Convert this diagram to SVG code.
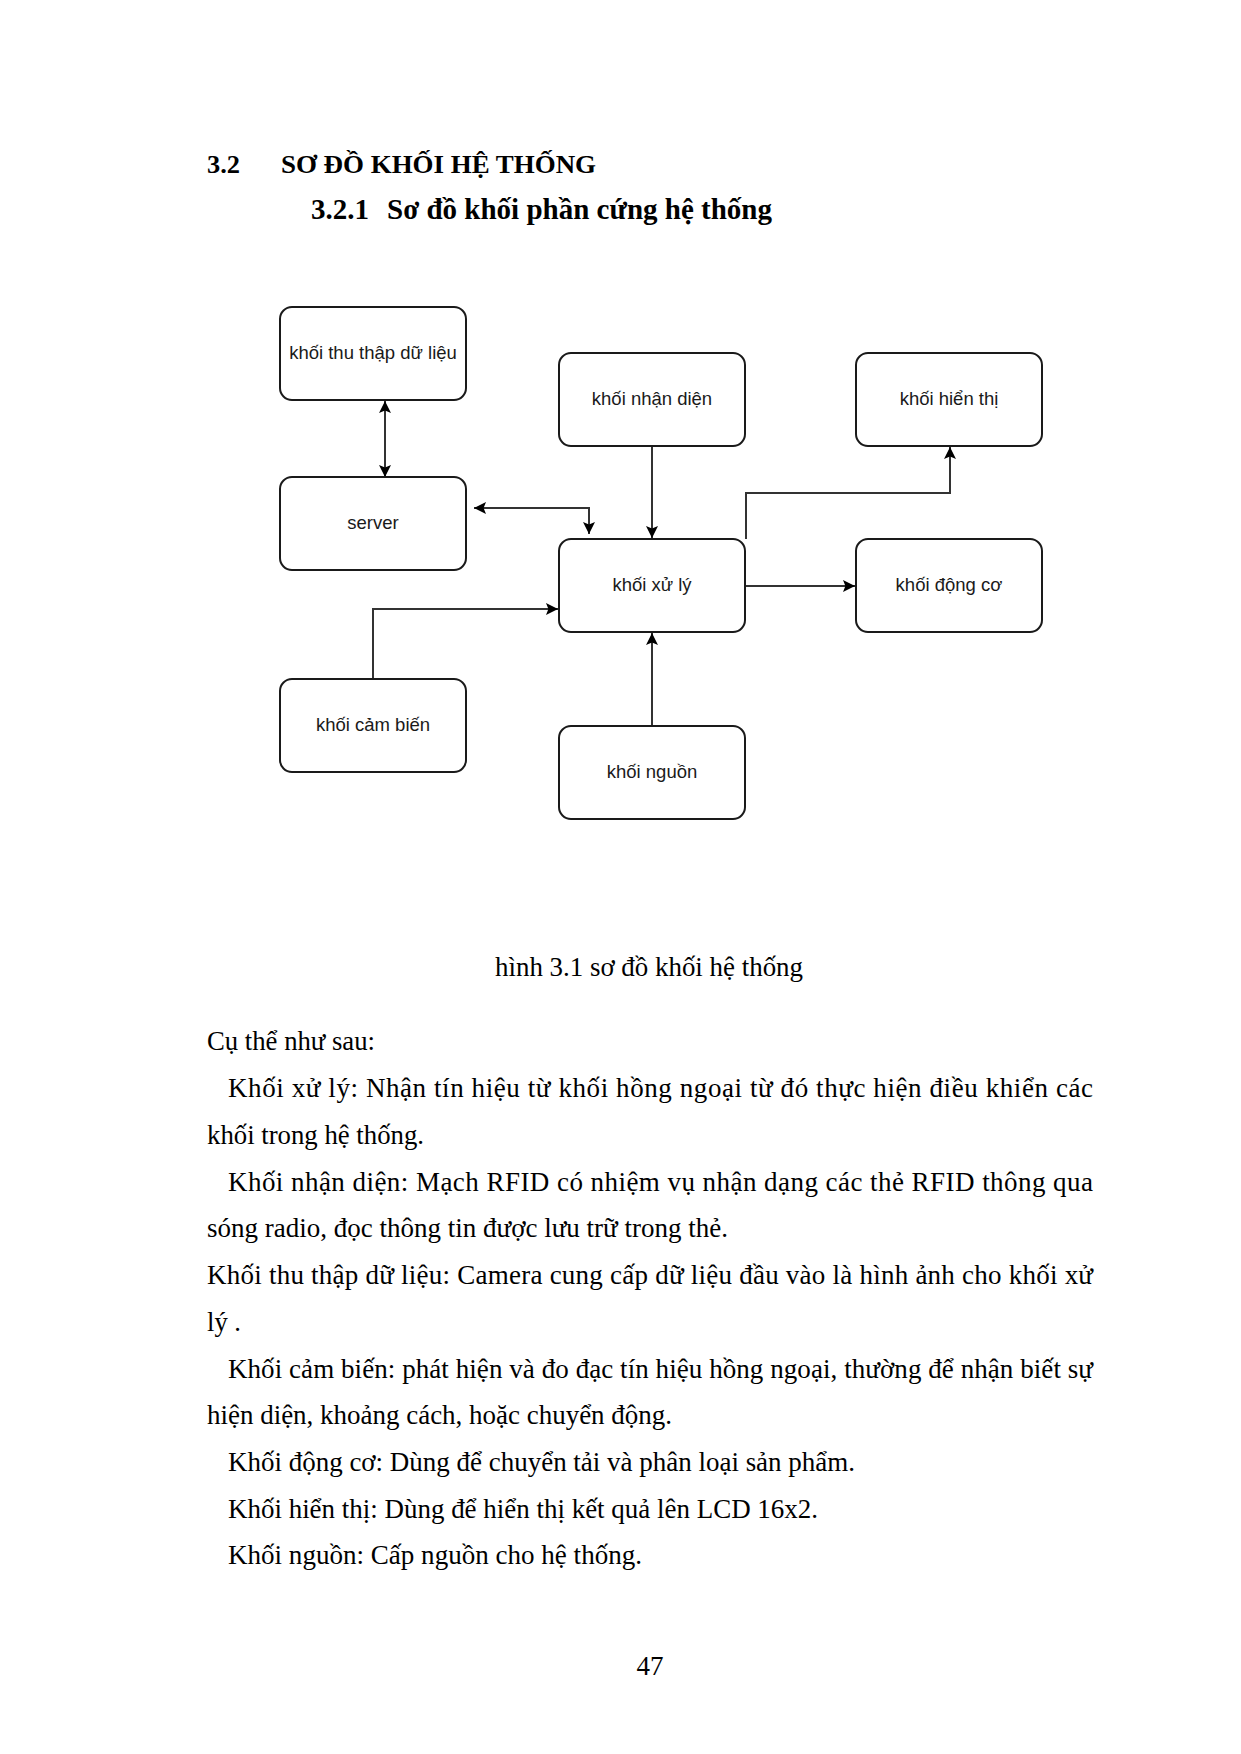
<svg xmlns="http://www.w3.org/2000/svg" width="1241" height="1754" viewBox="0 0 1241 1754">
<style>
  .box { fill: #ffffff; stroke: #1a1a1a; stroke-width: 2; }
  .lbl { font-family: "Liberation Sans", Arial, sans-serif; font-size: 18.5px; fill: #1a1a1a; text-anchor: middle; }
  .conn { fill: none; stroke: #333333; stroke-width: 2; }
  .h { font-family: "Liberation Serif", "Times New Roman", serif; font-weight: bold; fill: #000; }
  .body { font-family: "Liberation Serif", "Times New Roman", serif; font-size: 27px; fill: #000; }
</style>
<defs>
  <marker id="arr" viewBox="0 0 10 10" refX="10" refY="5" markerWidth="12" markerHeight="12" markerUnits="userSpaceOnUse" orient="auto-start-reverse">
    <path d="M0,0 L10,5 L0,10 L2,5 z" fill="#000"/>
  </marker>
</defs>
<rect width="1241" height="1754" fill="#ffffff"/>

<g id="headings">
  <text class="h" x="207" y="173" font-size="26" textLength="33" lengthAdjust="spacingAndGlyphs">3.2</text>
  <text class="h" x="281" y="173" font-size="26" textLength="315" lengthAdjust="spacingAndGlyphs">SƠ ĐỒ KHỐI HỆ THỐNG</text>
  <text class="h" x="311" y="219" font-size="29" textLength="58" lengthAdjust="spacingAndGlyphs">3.2.1</text>
  <text class="h" x="387" y="219" font-size="29" textLength="385" lengthAdjust="spacingAndGlyphs">Sơ đồ khối phần cứng hệ thống</text>
</g>

<g id="connectors">
  <path class="conn" d="M385,401 V477" marker-start="url(#arr)" marker-end="url(#arr)"/>
  <path class="conn" d="M474,508 H589 V534" marker-start="url(#arr)" marker-end="url(#arr)"/>
  <path class="conn" d="M652,446 V538" marker-end="url(#arr)"/>
  <path class="conn" d="M746,539 V493 H950 V447" marker-end="url(#arr)"/>
  <path class="conn" d="M746,586 H855" marker-end="url(#arr)"/>
  <path class="conn" d="M373,679 V609 H558" marker-end="url(#arr)"/>
  <path class="conn" d="M652,726 V633" marker-end="url(#arr)"/>
</g>

<g id="node-thuthap">
  <rect class="box" x="280" y="307" width="186" height="93" rx="12"/>
  <text class="lbl" x="373" y="359">khối thu thập dữ liệu</text>
</g>
<g id="node-server">
  <rect class="box" x="280" y="477" width="186" height="93" rx="12"/>
  <text class="lbl" x="373" y="529">server</text>
</g>
<g id="node-nhandien">
  <rect class="box" x="559" y="353" width="186" height="93" rx="12"/>
  <text class="lbl" x="652" y="405">khối nhận diện</text>
</g>
<g id="node-hienthi">
  <rect class="box" x="856" y="353" width="186" height="93" rx="12"/>
  <text class="lbl" x="949" y="405">khối hiển thị</text>
</g>
<g id="node-xuly">
  <rect class="box" x="559" y="539" width="186" height="93" rx="12"/>
  <text class="lbl" x="652" y="591">khối xử lý</text>
</g>
<g id="node-dongco">
  <rect class="box" x="856" y="539" width="186" height="93" rx="12"/>
  <text class="lbl" x="949" y="591">khối động cơ</text>
</g>
<g id="node-cambien">
  <rect class="box" x="280" y="679" width="186" height="93" rx="12"/>
  <text class="lbl" x="373" y="731">khối cảm biến</text>
</g>
<g id="node-nguon">
  <rect class="box" x="559" y="726" width="186" height="93" rx="12"/>
  <text class="lbl" x="652" y="778">khối nguồn</text>
</g>

<g id="caption">
  <text class="body" x="495" y="976" textLength="308" lengthAdjust="spacingAndGlyphs">hình 3.1 sơ đồ khối hệ thống</text>
</g>

<g id="body-text">
  <text class="body" x="207" y="1050" textLength="168" lengthAdjust="spacingAndGlyphs">Cụ thể như sau:</text>
  <text class="body" x="228" y="1097" textLength="865" lengthAdjust="spacing">Khối xử lý: Nhận tín hiệu từ khối hồng ngoại từ đó thực hiện điều khiển các</text>
  <text class="body" x="207" y="1144" textLength="217" lengthAdjust="spacingAndGlyphs">khối trong hệ thống.</text>
  <text class="body" x="228" y="1191" textLength="865" lengthAdjust="spacing">Khối nhận diện: Mạch RFID có nhiệm vụ nhận dạng các thẻ RFID thông qua</text>
  <text class="body" x="207" y="1237" textLength="521" lengthAdjust="spacingAndGlyphs">sóng radio, đọc thông tin được lưu trữ trong thẻ.</text>
  <text class="body" x="207" y="1284" textLength="886" lengthAdjust="spacing">Khối thu thập dữ liệu: Camera cung cấp dữ liệu đầu vào là hình ảnh cho khối xử</text>
  <text class="body" x="207" y="1331" textLength="34" lengthAdjust="spacingAndGlyphs">lý .</text>
  <text class="body" x="228" y="1378" textLength="865" lengthAdjust="spacing">Khối cảm biến: phát hiện và đo đạc tín hiệu hồng ngoại, thường để nhận biết sự</text>
  <text class="body" x="207" y="1424" textLength="465" lengthAdjust="spacingAndGlyphs">hiện diện, khoảng cách, hoặc chuyển động.</text>
  <text class="body" x="228" y="1471" textLength="627" lengthAdjust="spacingAndGlyphs">Khối động cơ: Dùng để chuyển tải và phân loại sản phẩm.</text>
  <text class="body" x="228" y="1518" textLength="590" lengthAdjust="spacingAndGlyphs">Khối hiển thị: Dùng để hiển thị kết quả lên LCD 16x2.</text>
  <text class="body" x="228" y="1564" textLength="414" lengthAdjust="spacingAndGlyphs">Khối nguồn: Cấp nguồn cho hệ thống.</text>
</g>

<g id="page-number">
  <text class="body" x="650" y="1675" text-anchor="middle">47</text>
</g>
</svg>
